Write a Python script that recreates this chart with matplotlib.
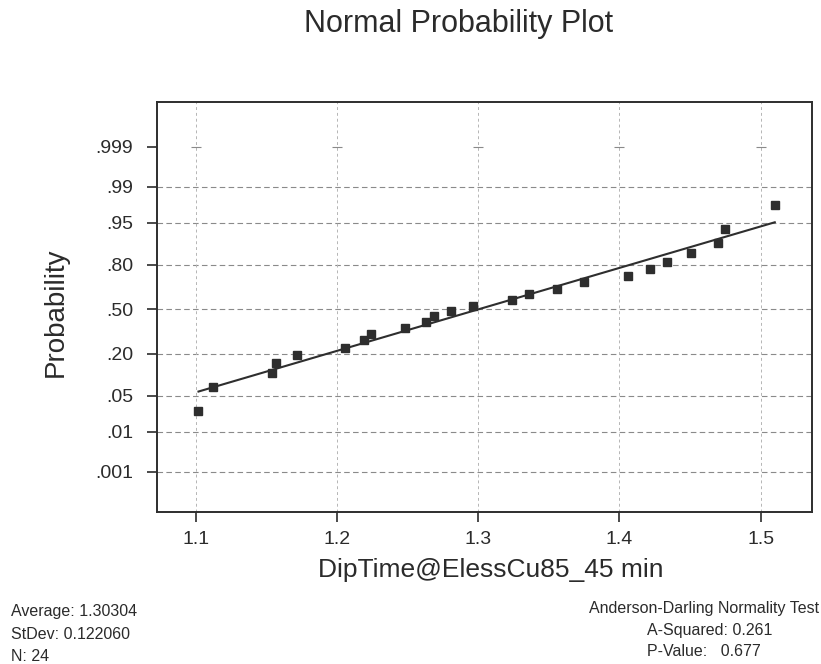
import matplotlib
matplotlib.use("Agg")
import matplotlib.pyplot as plt
from statistics import NormalDist

# ---- data ----
dip_time = [1.102, 1.112, 1.154, 1.157, 1.172, 1.206, 1.219, 1.224,
            1.248, 1.263, 1.269, 1.281, 1.296, 1.324, 1.336, 1.356,
            1.375, 1.406, 1.422, 1.434, 1.451, 1.470, 1.475, 1.510]
probability = [0.027, 0.069, 0.112, 0.152, 0.191, 0.232, 0.279, 0.317,
               0.361, 0.402, 0.446, 0.489, 0.526, 0.567, 0.611, 0.650,
               0.695, 0.734, 0.778, 0.817, 0.857, 0.897, 0.936, 0.976]
# fitted reference line as drawn (centre and spread)
line_center = 1.3004
line_scale = 0.1268
prob_ticks = [0.001, 0.01, 0.05, 0.20, 0.50, 0.80, 0.95, 0.99, 0.999]
prob_labels = [".001", ".01", ".05", ".20", ".50", ".80", ".95", ".99", ".999"]
x_ticks = [1.1, 1.2, 1.3, 1.4, 1.5]
x_labels = ["1.1", "1.2", "1.3", "1.4", "1.5"]

nd = NormalDist()
z = [nd.inv_cdf(p) for p in probability]
zt = [nd.inv_cdf(p) for p in prob_ticks]

plt.rcParams['font.family'] = ['Liberation Sans', 'DejaVu Sans']
tc = '#2b2b2b'

fig = plt.figure(figsize=(8.21, 6.64), dpi=100)
ax = fig.add_axes([0.1912, 0.2289, 0.7984, 0.6175])

ax.set_xlim(1.0726, 1.5367)
ax.set_ylim(-3.855, 3.94)

# grid
for zz in zt[:-1]:
    ax.axhline(zz, color='#8a8a8a', lw=0.8, ls=(0, (5, 3)), zorder=1)
for xv in x_ticks:
    ax.axvline(xv, color='#b5b5b5', lw=0.7, ls=(0, (3, 3)), zorder=1)
ax.plot(x_ticks, [zt[-1]] * len(x_ticks), ls='none', marker='_',
        ms=7, mew=0.8, color='#8a8a8a', zorder=1)

# fitted line
xmin, xmax = min(dip_time), max(dip_time)
ax.plot([xmin, xmax],
        [(xmin - line_center) / line_scale, (xmax - line_center) / line_scale],
        color='#2e2e2e', lw=1.5, zorder=2)

# points
ax.plot(dip_time, z, ls='none', marker='s', ms=5.5, color='#2e2e2e',
        mec='#2e2e2e', zorder=3)

ax.set_xticks(x_ticks)
ax.set_xticklabels(x_labels)
ax.set_yticks(zt)
ax.set_yticklabels(prob_labels)
ax.tick_params(axis='both', direction='out', length=7, width=1.2,
               colors=tc, labelsize=14)
ax.tick_params(axis='x', pad=7)
ax.tick_params(axis='y', pad=10)
for s in ax.spines.values():
    s.set_linewidth(1.4)
    s.set_color('#2e2e2e')

fig.text(459 / 821, 1 - 32 / 664, "Normal Probability Plot", ha='center',
         va='baseline', fontsize=22, color=tc)
fig.text(491 / 821, 1 - 577 / 664, "DipTime@ElessCu85_45 min", ha='center',
         va='baseline', fontsize=19, color=tc)
fig.text(56 / 821, 1 - 312 / 664, "Probability", rotation=90, ha='center',
         va='center', fontsize=20, color=tc)

fs = 11.5
fig.text(11 / 821, 1 - 616 / 664, "Average: 1.30304", ha='left', va='baseline',
         fontsize=fs, color=tc)
fig.text(11 / 821, 1 - 639 / 664, "StDev: 0.122060", ha='left', va='baseline',
         fontsize=fs, color=tc)
fig.text(11 / 821, 1 - 661 / 664, "N: 24", ha='left', va='baseline',
         fontsize=fs, color=tc)
fig.text(819 / 821, 1 - 613 / 664, "Anderson-Darling Normality Test", ha='right',
         va='baseline', fontsize=fs, color=tc)
fig.text(647 / 821, 1 - 635 / 664, "A-Squared: 0.261", ha='left',
         va='baseline', fontsize=fs, color=tc)
fig.text(647 / 821, 1 - 656 / 664, "P-Value:   0.677", ha='left',
         va='baseline', fontsize=fs, color=tc)

fig.savefig("out.png", dpi=100)
